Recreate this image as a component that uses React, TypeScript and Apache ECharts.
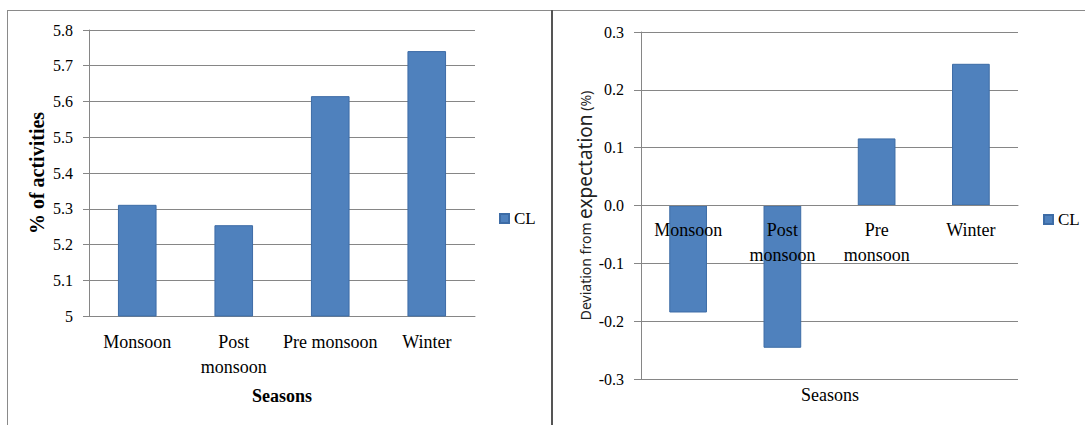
import React, { useEffect, useRef } from "react";
import * as echarts from "echarts";

// Seasonal activity share and deviation from expectation for CL
const seasons = ["Monsoon", "Post monsoon", "Pre monsoon", "Winter"];
const activityLabels = ["Monsoon", "Post\nmonsoon", "Pre monsoon", "Winter"];
const deviationLabels = ["Monsoon", "Post\nmonsoon", "Pre\nmonsoon", "Winter"];
const activityPct = [5.311, 5.254, 5.615, 5.741];
const deviationPct = [-0.185, -0.246, 0.116, 0.245];
const activityTicks = { min: 5, max: 5.8, step: 0.1 };
const deviationTicks = { min: -0.3, max: 0.3, step: 0.1 };
const seriesName = "CL";

const SERIF = "Liberation Serif";
const SANS = "Noto Sans";
const GRID_COLOR = "#868686";
const BAR_FILL = "#4F81BD";
const BAR_EDGE = "#3D6CA6";

// right panel plot height; category labels sit on the zero line
const RIGHT_TOP = 32;
const RIGHT_HEIGHT = 347;

export default function App() {
  const ref = useRef<HTMLDivElement>(null);

  useEffect(() => {
    if (!ref.current) return;
    const chart = echarts.init(ref.current, null, { renderer: "svg" });

    const labelMap = (labels: string[]) => (v: string) => {
      const i = seasons.indexOf(v);
      return i >= 0 ? labels[i] : v;
    };

    const zeroOffset =
      -RIGHT_HEIGHT *
      ((0 - deviationTicks.min) / (deviationTicks.max - deviationTicks.min));

    const legendBase = {
      data: [seriesName],
      padding: 0,
      itemWidth: 9,
      itemHeight: 9,
      icon: "rect",
      selectedMode: false,
      textStyle: { fontFamily: SERIF, fontSize: 17, color: "#000" },
    };

    chart.setOption({
      animation: false,
      backgroundColor: "#ffffff",
      legend: [
        { ...legendBase, left: 499, top: 210 },
        { ...legendBase, left: 1043, top: 211 },
      ],
      grid: [
        { left: 89, width: 386, top: 30, height: 286 },
        { left: 641, width: 377, top: RIGHT_TOP, height: RIGHT_HEIGHT },
      ],
      xAxis: [
        {
          type: "category",
          gridIndex: 0,
          data: seasons,
          axisLine: { lineStyle: { color: GRID_COLOR, width: 1 } },
          axisTick: { show: false },
          axisLabel: {
            interval: 0,
            margin: 13,
            fontFamily: SERIF,
            fontSize: 18,
            lineHeight: 25,
            color: "#000",
            formatter: labelMap(activityLabels),
          },
          name: "Seasons",
          nameLocation: "middle",
          nameGap: 71,
          nameTextStyle: {
            fontFamily: SERIF,
            fontSize: 18,
            fontWeight: "bold",
            color: "#000",
          },
        },
        {
          type: "category",
          gridIndex: 1,
          data: seasons,
          z: 5,
          offset: zeroOffset,
          axisLine: { onZero: false, lineStyle: { color: GRID_COLOR, width: 1 } },
          axisTick: { show: false },
          axisLabel: {
            interval: 0,
            margin: 12,
            fontFamily: SERIF,
            fontSize: 18,
            lineHeight: 25,
            color: "#000",
            formatter: labelMap(deviationLabels),
          },
        },
      ],
      yAxis: [
        {
          type: "value",
          gridIndex: 0,
          min: activityTicks.min,
          max: activityTicks.max,
          interval: activityTicks.step,
          axisLine: { show: true, lineStyle: { color: GRID_COLOR } },
          axisTick: { show: true, length: 6, lineStyle: { color: GRID_COLOR } },
          splitLine: { lineStyle: { color: GRID_COLOR, width: 1 } },
          axisLabel: {
            margin: 16,
            fontFamily: SERIF,
            fontSize: 16,
            color: "#000",
            formatter: (v: number) => String(Math.round(v * 10) / 10),
          },
          name: "% of activities",
          nameLocation: "middle",
          nameGap: 42,
          nameTextStyle: {
            fontFamily: SERIF,
            fontSize: 20,
            fontWeight: "bold",
            color: "#000",
          },
        },
        {
          type: "value",
          gridIndex: 1,
          min: deviationTicks.min,
          max: deviationTicks.max,
          interval: deviationTicks.step,
          axisLine: { show: true, lineStyle: { color: GRID_COLOR } },
          axisTick: { show: true, length: 7, lineStyle: { color: GRID_COLOR } },
          splitLine: { lineStyle: { color: GRID_COLOR, width: 1 } },
          axisLabel: {
            margin: 17,
            fontFamily: SERIF,
            fontSize: 16,
            color: "#000",
            formatter: (v: number) => (Math.round(v * 10) / 10).toFixed(1),
          },
          name: "{s|Deviation from }{b|expectation}{s| (%)}",
          nameLocation: "middle",
          nameGap: 42,
          nameTextStyle: {
            rich: {
              s: { fontFamily: SANS, fontSize: 14, color: "#222" },
              b: { fontFamily: SANS, fontSize: 19, color: "#222" },
            },
          },
        },
      ],
      series: [
        {
          name: seriesName,
          type: "bar",
          xAxisIndex: 0,
          yAxisIndex: 0,
          data: activityPct,
          barCategoryGap: "60%",
          itemStyle: { color: BAR_FILL, borderColor: BAR_EDGE, borderWidth: 1 },
        },
        {
          name: seriesName,
          type: "bar",
          xAxisIndex: 1,
          yAxisIndex: 1,
          data: deviationPct,
          barCategoryGap: "60%",
          itemStyle: { color: BAR_FILL, borderColor: BAR_EDGE, borderWidth: 1 },
        },
      ],
      graphic: [
        // panel frames
        {
          type: "line",
          shape: { x1: 7.5, y1: 10.5, x2: 7.5, y2: 425 },
          style: { stroke: "#8a8a8a", lineWidth: 1 },
        },
        {
          type: "line",
          shape: { x1: 7, y1: 10.5, x2: 1085, y2: 10.5 },
          style: { stroke: "#8a8a8a", lineWidth: 1 },
        },
        {
          type: "line",
          shape: { x1: 552, y1: 10, x2: 552, y2: 425 },
          style: { stroke: "#555555", lineWidth: 2 },
        },
        {
          type: "text",
          x: 830,
          y: 395,
          style: {
            text: "Seasons",
            fontFamily: SERIF,
            fontSize: 18,
            fill: "#000",
            align: "center",
            verticalAlign: "middle",
          },
        },
      ],
    });

    return () => chart.dispose();
  }, []);

  return (
    <div
      ref={ref}
      style={{ position: "absolute", left: 0, top: 0, width: 1085, height: 425 }}
    />
  );
}
